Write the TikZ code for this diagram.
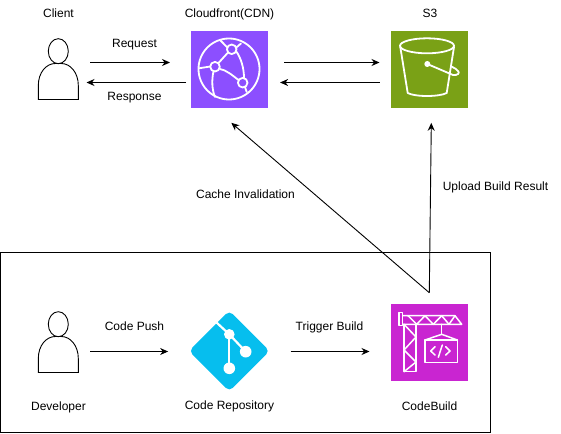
\documentclass[tikz,border=0pt]{standalone}
\usepackage{fontspec}
\setmainfont{Liberation Sans}
\usetikzlibrary{shapes.geometric,arrows.meta}
\definecolor{cdnpurple}{HTML}{8C4FFF}
\definecolor{sgreen}{HTML}{7AA116}
\definecolor{buildpink}{HTML}{C925D1}
\definecolor{gitblue}{HTML}{06BEEE}
\tikzstyle{awsbox} = [rectangle, minimum size=78pt, inner sep=0pt, draw=white, line width=0.6pt]
\tikzstyle{actor} = [rectangle, minimum width=40pt, minimum height=61pt, inner sep=0pt]
\tikzstyle{label} = [inner sep=0pt, text height=9pt, text depth=3pt, font=\fontsize{12}{14}\selectfont]
\tikzstyle{arrow} = [line width=0.9pt,-{Stealth[length=8pt,width=7pt]}]
\tikzstyle{icon} = [white, line width=1.8pt, line join=round, line cap=round]
\newcommand{\personicon}[1]{
\begin{scope}[shift={(#1.center)}, line width=0.9pt]
\draw (0,-18.3) ellipse [x radius=10, y radius=12.5];
\draw (-20,30) -- (-20,16) .. controls (-20,3) and (-12,-6) .. (-3,-6) -- (3,-6) .. controls (12,-6) and (20,3) .. (20,16) -- (20,30) -- cycle;
\end{scope}}
\begin{document}
\begin{tikzpicture}[x=1pt, y=-1pt, node distance=200pt]
\useasboundingbox (0,0) rectangle (561,433);
\draw [line width=1pt] (0.5,252.5) rectangle (490,432.5);

\node (cdn) [awsbox, fill=cdnpurple] at (229.3,69.5) {};
\node (s3) [awsbox, fill=sgreen, right of=cdn] {};
\node (client) [actor, left of=cdn, xshift=29pt] {};
\node (codebuild) [awsbox, fill=buildpink, below of=s3, yshift=-73pt] {};
\node (repo) [diamond, aspect=1, inner sep=0pt, minimum size=81pt, rounded corners=5pt, fill=gitblue, left of=codebuild, yshift=-8.5pt] {};
\node (developer) [actor, left of=codebuild, xshift=-171pt] {};
\personicon{client}
\personicon{developer}

% labels
\node (clienttxt) [label] at (58.5,15) {Client};
\node (cdntxt) [label] at (229.5,15) {Cloudfront(CDN)};
\node (s3txt) [label] at (430,15) {S3};
\node (reqtxt) [label] at (134.5,45) {Request};
\node (resptxt) [label] at (134.5,97) {Response};
\node (cachetxt) [label] at (245.5,195) {Cache Invalidation};
\node (uploadtxt) [label] at (495.5,187) {Upload Build Result};
\node (pushtxt) [label] at (134.5,327) {Code Push};
\node (triggertxt) [label] at (329.5,327) {Trigger Build};
\node (devtxt) [label] at (58.5,407) {Developer};
\node (repotxt) [label] at (229.5,406) {Code Repository};
\node (buildtxt) [label] at (429.5,407) {CodeBuild};

% connectors
\draw [arrow] ([xshift=11.5pt,yshift=7pt]client.east) -- ([xshift=-20pt,yshift=7pt]cdn.west);
\draw [arrow] ([xshift=-4pt,yshift=-13pt]cdn.west) -- ([xshift=8pt,yshift=-13pt]client.east);
\draw [arrow] ([xshift=15.5pt,yshift=7pt]cdn.east) -- ([xshift=-10.5pt,yshift=7pt]s3.west);
\draw [arrow] ([xshift=-10.5pt,yshift=-13pt]s3.west) -- ([xshift=11.5pt,yshift=-13pt]cdn.east);
\draw [arrow] ([yshift=10.5pt]codebuild.north) -- ([xshift=2pt,yshift=-14pt]cdn.south);
\draw [arrow] ([yshift=10.5pt]codebuild.north) -- ([xshift=2pt,yshift=-14pt]s3.south);
\draw [arrow] ([xshift=11.5pt,yshift=-9pt]developer.east) -- ([xshift=-20.5pt,yshift=-0.5pt]repo.west);
\draw [arrow] ([xshift=20.5pt,yshift=-0.5pt]repo.east) -- ([xshift=-20.5pt,yshift=-9pt]codebuild.west);

% cloudfront icon
\begin{scope}[icon]
\draw (229,69) circle (30.5);
\draw (231.7,49.3) circle (4.8) (215,66.7) circle (4.8) (242.7,82.7) circle (4.8);
\draw (228,52.5) -- (218.5,63);
\draw (220,69) .. controls (226,70) and (232,75) .. (238.5,80);
\draw (236,51) .. controls (241,58) and (244,68) .. (244,78);
\draw (210.2,66.5) -- (199,68.3);
\draw (213.5,71.5) .. controls (211.5,80) and (212,90) .. (215,97);
\draw (227.3,47.5) .. controls (225,45) and (222,42) .. (220,40);
\draw (236.3,47.5) -- (241,43.5);
\draw (245,87) -- (246.7,92);
\end{scope}

% s3 icon
\begin{scope}[icon]
\draw (427,45.8) ellipse [x radius=27, y radius=7.5];
\draw (400.3,47) -- (407.7,93) .. controls (415,97) and (439,97) .. (446.7,93) -- (454,47);
\fill (427.3,64) circle (3);
\draw (427.3,64) -- (453,75) .. controls (458,75.5) and (460,73) .. (458,71) .. controls (457,69.5) and (454,67.5) .. (451.7,66.7);
\end{scope}

% git icon
\begin{scope}[white, line width=2.2pt]
\draw (216.5,322.5) -- (229.3,334.3) -- (245.7,351.7);
\draw (229.3,334.3) -- (229.3,368.3);
\fill (229.3,334.3) circle (5.3);
\fill (245.7,351.7) circle (5.8);
\fill (229.3,368.3) circle (5.8);
\end{scope}

% codebuild icon
\begin{scope}[icon, line width=1.5pt]
\draw (399,312.7) rectangle (402.7,325.7);
\draw (402.7,315.7) -- (455,315.7) -- (461.7,324.3) -- (402.7,324.3);
\draw (404,324.3) -- (404,371.7) -- (416,371.7) -- (416,324.3);
\draw (404,324.3) -- (416,337) -- (404,350) -- (416,362) -- (404,371.7);
\draw (408,315.7) -- (416.7,324.3) -- (425,315.7) -- (433.3,324.3) -- (441.7,315.7) -- (449,324.3) -- (455,315.7);
\draw (441.7,324.3) -- (441.7,334.3);
\draw (425,340) -- (441.7,334.3) -- (457.3,340);
\draw (425,340) rectangle (457.3,362.7);
\draw (435,346.7) -- (430.7,351) -- (435,355);
\draw (445.7,346.7) -- (450,351) -- (445.7,355);
\draw (442.3,345) -- (438.3,357.3);
\end{scope}
\end{tikzpicture}
\end{document}
